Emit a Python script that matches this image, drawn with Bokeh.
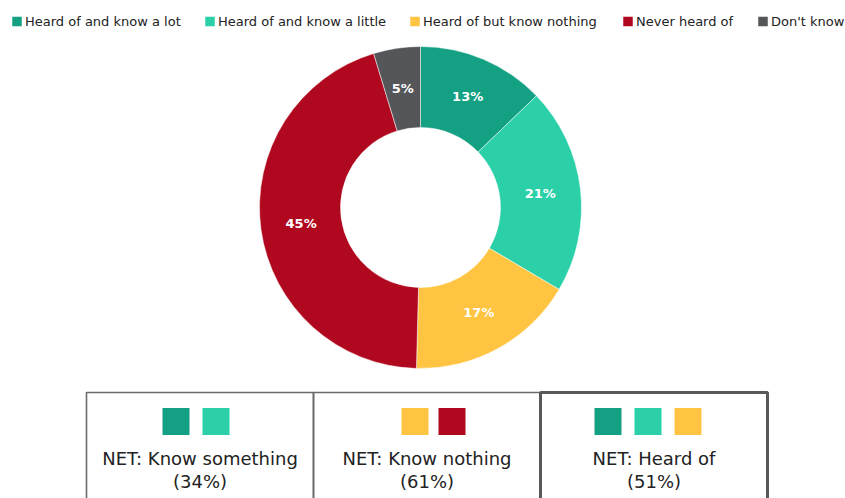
import math
from bokeh.plotting import figure
from bokeh.models import Range1d, ColumnDataSource
from bokeh.core.properties import value
from bokeh.embed import file_html
from bokeh.resources import INLINE

# ---------------- data ----------------
categories = ["Heard of and know a lot", "Heard of and know a little",
              "Heard of but know nothing", "Never heard of", "Don't know"]
shares = [12.8, 20.7, 16.9, 44.9, 4.7]
colors = ["#14A083", "#2BD0A8", "#FFC542", "#B0081E", "#54565A"]

net_labels = ["NET: Know something", "NET: Know nothing", "NET: Heard of"]
net_values = [34, 61, 51]
net_members = [[0, 1], [2, 3], [0, 1, 2]]

# ---------------- layout ----------------
W, H = 845, 498
FONT = "DejaVu Sans"


def Y(ypx):
    return H - ypx


p = figure(width=W, height=H, x_range=Range1d(0, W), y_range=Range1d(0, H),
           x_axis_type=None, y_axis_type=None, toolbar_location=None,
           output_backend="svg", min_border=0)
p.grid.visible = False
p.outline_line_color = None
p.background_fill_color = "white"
p.border_fill_color = "white"

# donut
cx, cy = 420, 207
r_out, r_in = 161, 80
total = sum(shares)
starts, ends, lx, ly, labs = [], [], [], [], []
cum = 0.0
for s in shares:
    a0 = math.pi / 2 - 2 * math.pi * cum / total
    cum += s
    a1 = math.pi / 2 - 2 * math.pi * cum / total
    starts.append(a0)
    ends.append(a1)
    mid = (a0 + a1) / 2
    rm = (r_out + r_in) / 2
    lx.append(cx + rm * math.cos(mid))
    ly.append(Y(cy) + rm * math.sin(mid))
    labs.append(f"{round(s)}%")

src = ColumnDataSource(dict(start=starts, end=ends, color=colors))
p.annular_wedge(x=cx, y=Y(cy), inner_radius=r_in, outer_radius=r_out,
                start_angle="start", end_angle="end", direction="clock",
                fill_color="color", line_color="white", line_width=0.5,
                source=src)
p.text(x=lx, y=ly, text=labs, text_color="white", text_font=value(FONT),
       text_font_style="bold", text_font_size="13px", text_align="center",
       text_baseline="middle")

# legend
leg_x = [12, 205, 410, 623, 758]
for i, c in enumerate(categories):
    p.rect(x=leg_x[i] + 4.5, y=Y(21), width=9.5, height=9.5, fill_color=colors[i],
           line_color=None)
    p.text(x=[leg_x[i] + 12.5], y=[Y(20.5)], text=[c], text_color="#222222",
           text_font=value(FONT), text_font_size="13px", text_align="left",
           text_baseline="middle")

# NET boxes
box_left = [86, 313, 540]
box_w = 227
box_top = 392
swatch_center = [195.5, 433, 647.5]
swatch_pitch = [40, 37, 40]
for i, lab in enumerate(net_labels):
    bx = box_left[i] + box_w / 2
    thick = i == 2
    p.rect(x=bx, y=Y(box_top + 60), width=box_w, height=120,
           fill_color=None, line_color="#58595B" if thick else "#6B6B6B",
           line_width=3 if thick else 1.6)
    m = net_members[i]
    n = len(m)
    for k, ci in enumerate(m):
        sx = swatch_center[i] + (k - (n - 1) / 2) * swatch_pitch[i]
        p.rect(x=sx, y=Y(421), width=27, height=27, fill_color=colors[ci],
               line_color=None)
    p.text(x=[bx], y=[Y(458)], text=[lab], text_color="#222222",
           text_font=value(FONT), text_font_size="18px", text_align="center",
           text_baseline="middle")
    p.text(x=[bx], y=[Y(481)], text=[f"({net_values[i]}%)"], text_color="#222222",
           text_font=value(FONT), text_font_size="18px", text_align="center",
           text_baseline="middle")

open("out.html", "w").write(file_html(p, INLINE))
